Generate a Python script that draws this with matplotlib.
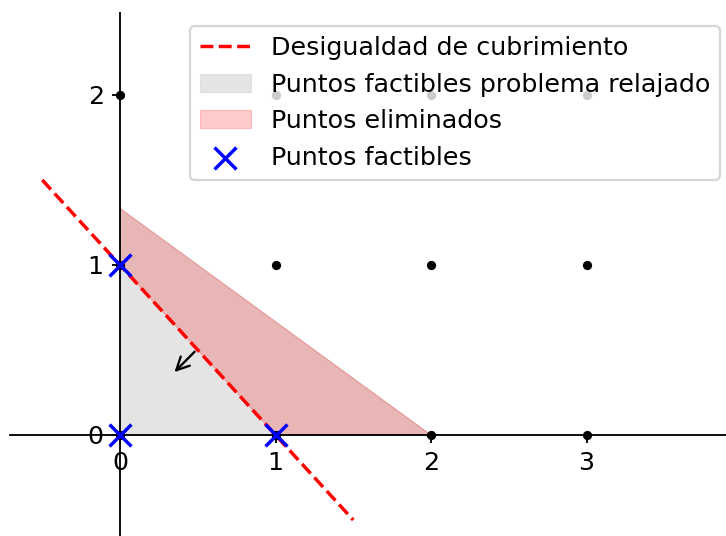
import numpy as np
import matplotlib
matplotlib.use("Agg")
import matplotlib.pyplot as plt

# integer grid points
grid_x = [0, 1, 2, 3]
grid_y = [0, 1, 2]

# feasible integer points
feas_x = [0, 1, 0]
feas_y = [0, 0, 1]

# relaxed feasible region: 2x + 3y <= 4, x, y >= 0
relaj_x = [0, 0, 2]
relaj_y = [0, 4 / 3, 0]

# part removed by the cover inequality x + y <= 1
elim_x = [0, 0, 2, 1]
elim_y = [1, 4 / 3, 0, 0]

# cover inequality x + y = 1
corte_x = np.array([-0.5, 1.5])
corte_y = 1 - corte_x

plt.rcParams["font.size"] = 11

dpi = 166
fig = plt.figure(figsize=(726 / dpi, 536 / dpi), dpi=dpi)
W, H = 726, 536
left, right, top, bottom = 10, 733, 13, 546
ax = fig.add_axes([left / W, 1 - bottom / H, (right - left) / W, (bottom - top) / H])

ax.plot(corte_x, corte_y, "r--", label="Desigualdad de cubrimiento")
ax.fill(relaj_x, relaj_y, color="lightgray", alpha=0.6, lw=0.5,
        label="Puntos factibles problema relajado")
ax.fill(elim_x, elim_y, color="red", alpha=0.2, lw=0.5, label="Puntos eliminados")

gx, gy = np.meshgrid(grid_x, grid_y)
ax.plot(gx.ravel(), gy.ravel(), "k.", ms=6)
ax.scatter(feas_x, feas_y, marker="x", color="blue", s=90, zorder=3,
           label="Puntos factibles")

ax.annotate("", xy=(0.35, 0.37), xytext=(0.48, 0.49),
            arrowprops=dict(arrowstyle="->", color="black", lw=1.0,
                            shrinkA=0, shrinkB=0, mutation_scale=14))

ax.spines["left"].set_position("zero")
ax.spines["bottom"].set_position("zero")
ax.spines["right"].set_visible(False)
ax.spines["top"].set_visible(False)
ax.set_xticks(grid_x)
ax.set_yticks(grid_y)
ax.set_xlim((left - 120) / 155.5, (right - 120) / 155.5)
ax.set_ylim((435 - bottom) / 170, (435 - top) / 170)
ax.patch.set_alpha(0)

ax.legend(loc="upper right")
fig.savefig("out.png", dpi=dpi)
